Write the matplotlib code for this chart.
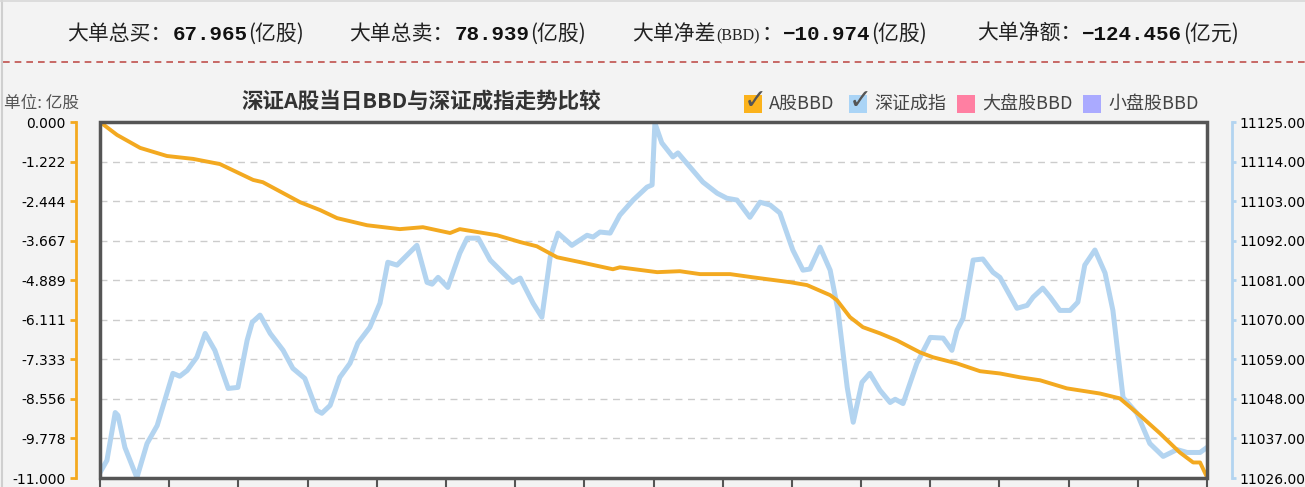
import matplotlib
matplotlib.use('Agg')
import matplotlib.pyplot as plt
from matplotlib.patches import Rectangle
from matplotlib.lines import Line2D

# 深证A股当日BBD（左轴，亿股）与深证成指（右轴），横轴为交易分钟 0..240

bbd_min = [0, 3.7, 8.7, 14.5, 20.2, 26.0, 33.2, 35.3, 43.4, 47.7,
           51.4, 57.9, 65.0, 70.0, 75.9, 78.0, 86.1, 91.1, 94.7, 99.1,
           104.1, 111.2, 112.7, 120.8, 125.7, 130.1, 136.6, 141.6, 149.6, 153.3,
           158.3, 159.8, 162.6, 165.4, 169.1, 172.8, 177.8, 180.6, 185.8, 190.8,
           195.1, 199.5, 203.8, 209.6, 216.8, 221.1, 225.5, 229.8, 234.1, 237.0,
           238.5, 240]
bbd_val = [0, -0.40, -0.80, -1.05, -1.14, -1.30, -1.79, -1.86, -2.48, -2.72,
           -2.97, -3.19, -3.31, -3.25, -3.43, -3.31, -3.50, -3.71, -3.84, -4.18,
           -4.33, -4.55, -4.49, -4.64, -4.61, -4.70, -4.70, -4.80, -4.95, -5.04,
           -5.35, -5.51, -6.03, -6.34, -6.53, -6.75, -7.12, -7.27, -7.46, -7.70,
           -7.77, -7.89, -7.98, -8.23, -8.39, -8.54, -9.07, -9.62, -10.21, -10.52,
           -10.52, -10.974]

sz_min = [0, 1.5, 3.3, 3.9, 5.4, 8.0, 10.2, 12.4, 15.8, 17.3,
          18.9, 21.0, 22.8, 24.9, 27.8, 29.9, 31.9, 33.0, 34.7, 36.9,
          39.7, 41.8, 44.4, 47.0, 48.1, 49.9, 52.0, 54.2, 55.9, 58.5,
          60.7, 62.4, 64.4, 68.7, 70.9, 72.0, 73.3, 75.4, 78.0, 79.6,
          82.0, 84.6, 87.4, 89.5, 91.1, 93.9, 95.8, 97.6, 99.3, 102.3,
          105.6, 106.9, 108.4, 110.6, 112.7, 115.6, 118.6, 119.7, 120.3, 121.8,
          124.2, 125.3, 127.9, 130.7, 133.8, 135.9, 138.1, 140.9, 143.1, 145.3,
          147.4, 150.2, 152.4, 153.9, 156.1, 158.3, 160.0, 162.0, 163.3, 165.2,
          166.9, 169.1, 171.3, 172.4, 174.1, 177.1, 180.0, 182.8, 184.7, 185.8,
          187.1, 189.3, 191.4, 193.6, 195.1, 198.8, 201.0, 202.3, 204.4, 206.0,
          208.1, 210.3, 212.0, 213.5, 215.7, 217.9, 219.6, 221.8, 224.8, 227.6,
          230.5, 233.5, 235.7, 238.5, 240]
sz_val = [11027.5, 11030.9, 11044.2, 11043.4, 11034.5, 11026.1, 11035.6, 11040.6, 11055.1, 11054.3,
          11055.9, 11059.6, 11066.2, 11061.5, 11050.9, 11051.2, 11064.3, 11069.3, 11071.3, 11066.2,
          11061.5, 11056.5, 11053.7, 11044.8, 11044.0, 11046.2, 11054.0, 11057.9, 11063.5, 11067.9,
          11074.6, 11086.0, 11085.2, 11090.7, 11080.4, 11079.9, 11081.8, 11079.0, 11088.5, 11092.7,
          11092.7, 11086.6, 11083.0, 11080.4, 11081.6, 11074.6, 11070.7, 11087.4, 11094.1, 11090.7,
          11093.5, 11093.0, 11094.4, 11094.1, 11099.1, 11103.3, 11106.9, 11107.5, 11124.7, 11119.2,
          11115.3, 11116.4, 11112.5, 11108.3, 11105.2, 11103.8, 11103.3, 11098.5, 11102.7, 11101.9,
          11099.7, 11089.4, 11083.8, 11084.1, 11090.2, 11083.8, 11072.6, 11051.2, 11041.5, 11052.6,
          11055.1, 11050.4, 11047.0, 11047.9, 11046.7, 11057.9, 11065.1, 11064.9, 11061.5, 11067.1,
          11070.4, 11086.6, 11086.9, 11083.2, 11081.8, 11073.2, 11074.0, 11076.3, 11078.8, 11076.3,
          11072.6, 11072.6, 11074.9, 11085.2, 11089.4, 11083.0, 11072.6, 11048.4, 11044.0, 11035.6,
          11032.0, 11033.9, 11033.1, 11033.1, 11034.5]

left_ticks = [0.0, -1.222, -2.444, -3.667, -4.889, -6.111, -7.333, -8.556, -9.778, -11.0]
right_ticks = [11125, 11114, 11103, 11092, 11081, 11070, 11059, 11048, 11037, 11026]
prev_close = 11065  # 高于此值标红

hdr_labels = ['大单总买：', '大单总卖：', '大单净差', '大单净额：']
hdr_tags = ['', '', '(BBD)', '']
hdr_values = ['67.965', '78.939', '\u221210.974', '\u2212124.456']
hdr_units = ['(亿股)', '(亿股)', '(亿股)', '(亿元)']

legend_labels = ['A股BBD', '深证成指', '大盘股BBD', '小盘股BBD']
legend_colors = ['#fbb21b', '#aad4f6', '#ff7fa2', '#aaaaff']
legend_checked = [True, True, False, False]

ORANGE = '#f3a920'
BLUE = '#b3d4f0'
GREEN = '#3c9a1c'
RED = '#e8102a'
CJK = ['Noto Sans CJK SC', 'DejaVu Sans']

W, H = 1305, 487


def fx(px):
    return px / W


def fy(py):
    return 1 - py / H


fig = plt.figure(figsize=(W / 100, H / 100), dpi=100, facecolor='#f3f3f3')

ax = fig.add_axes([fx(100), fy(478), 1107 / W, 356 / H])
ax2 = ax.twinx()
ax.set_zorder(ax2.get_zorder() + 1)
ax.patch.set_visible(False)
ax2.patch.set_visible(True)
ax2.patch.set_facecolor('white')

# right axis: index
ax2.plot(sz_min, sz_val, color=BLUE, lw=3.6, solid_joinstyle='round', solid_capstyle='round')
ax2.set_ylim(min(right_ticks), max(right_ticks))
ax2.set_yticks(right_ticks)
ax2.set_yticklabels(['%.2f' % v for v in right_ticks], family='Liberation Sans', fontsize=10)
for lab, v in zip(ax2.get_yticklabels(), right_ticks):
    lab.set_color(RED if v >= prev_close else GREEN)
ax2.tick_params(axis='y', direction='out', length=3, width=2, color=BLUE, pad=2)
ax2.grid(axis='y', color='#cccccc', lw=1, ls=(0, (5, 4)))
for s in ['top', 'bottom', 'left']:
    ax2.spines[s].set_visible(False)
ax2.spines['right'].set_position(('outward', 18))
ax2.spines['right'].set_color(BLUE)
ax2.spines['right'].set_linewidth(2)

# left axis: BBD
ax.plot(bbd_min, bbd_val, color=ORANGE, lw=2.8, solid_joinstyle='round')
ax.set_xlim(0, 240)
ax.set_ylim(min(left_ticks), max(left_ticks))
ax.set_yticks(left_ticks)
ax.set_yticklabels(['%.3f' % v for v in left_ticks], family='Liberation Sans', fontsize=10)
for lab, v in zip(ax.get_yticklabels(), left_ticks):
    lab.set_color('#666666' if v == 0 else GREEN)
ax.tick_params(axis='y', direction='out', length=4.5, width=2, color=ORANGE, pad=3)
ax.set_xticks(range(0, 241, 15))
ax.tick_params(axis='x', direction='out', length=12, width=1.5, color='#555555', labelbottom=False)
for s in ['top', 'right', 'bottom']:
    ax.spines[s].set_visible(False)
ax.spines['left'].set_position(('outward', 17))
ax.spines['left'].set_color(ORANGE)
ax.spines['left'].set_linewidth(2)
ax.add_patch(Rectangle((0, 0), 1, 1, transform=ax.transAxes, fill=False,
                       ec='#555555', lw=2.5, clip_on=False, zorder=5))

# titles
fig.text(fx(421), fy(101), '深证A股当日BBD与深证成指走势比较', ha='center', va='center',
         fontsize=15.5, fontweight='bold', family=CJK, color='#333333')
fig.text(fx(4), fy(103), '单位: 亿股', ha='left', va='center',
         fontsize=12, family=CJK, color='#555555')

# legend
leg_x = [744, 849, 957, 1083]
for x0, lab, c, chk in zip(leg_x, legend_labels, legend_colors, legend_checked):
    fig.add_artist(Rectangle((fx(x0), fy(113)), 18 / W, 18 / H, transform=fig.transFigure,
                             color=c, lw=0))
    if chk:
        fig.text(fx(x0 + 11), fy(101), '\u2713', ha='center', va='center', fontsize=20,
                 family='DejaVu Sans', color='#555555')
    fig.text(fx(x0 + 25), fy(104), lab, ha='left', va='center', fontsize=13,
             family=CJK, color='#444444')

# header row
renderer = fig.canvas.get_renderer()
hdr_x = [67, 349, 632, 977]
for x0, lab, tag, val, unit in zip(hdr_x, hdr_labels, hdr_tags, hdr_values, hdr_units):
    pieces = [(lab, dict(family=CJK, fontsize=15, color='#222222'))]
    if tag:
        pieces.append((tag, dict(family='Liberation Serif', fontsize=11.5, color='#222222')))
        pieces.append(('：', dict(family=CJK, fontsize=15, color='#222222')))
    pieces.append((val, dict(family=['Liberation Mono', 'DejaVu Sans Mono'], fontsize=15,
                             fontweight='bold', color='#111111')))
    pieces.append((unit, dict(family=CJK, fontsize=15, color='#222222')))
    x = x0
    for s, kw in pieces:
        t = fig.text(fx(x), fy(40), s, ha='left', va='baseline', **kw)
        x += t.get_window_extent(renderer).width + 1

fig.add_artist(Line2D([fx(3), 1], [fy(62), fy(62)], transform=fig.transFigure,
                      color='#c0504d', lw=1.2, ls=(0, (4, 3))))
fig.add_artist(Line2D([fx(1.5), fx(1.5)], [0, 1], transform=fig.transFigure, color='#cfcfcf', lw=1.5))
fig.add_artist(Line2D([0, 1], [fy(1), fy(1)], transform=fig.transFigure, color='#d8d8d8', lw=1.2))

fig.savefig('out.png', dpi=100, facecolor=fig.get_facecolor())
